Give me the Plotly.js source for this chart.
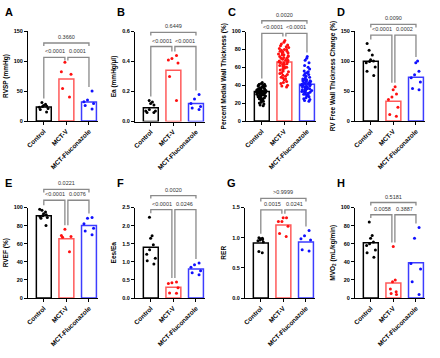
<!DOCTYPE html>
<html><head><meta charset="utf-8">
<script src="https://cdn.plot.ly/plotly-3.0.1.min.js"></script>
<style>html,body{margin:0;padding:0;background:#fff}#chart{width:440px;height:358px}</style>
</head><body><div id="chart"></div>
<script>
const categories = ['Control', 'MCT-V', 'MCT-Fluconazole'];

// A RVSP
const rvspControl = [31, 28, 26, 25, 24, 23, 21, 19, 15];
const rvspMctV = [98, 82, 78, 54, 40];
const rvspMctF = [50, 35, 32, 29, 26, 20];
const rvspMean = [23.5, 70, 31.5];
// B Ea
const eaControl = [0.14, 0.13, 0.12, 0.11, 0.08, 0.07, 0.06, 0.06, 0.07];
const eaMctV = [0.44, 0.42, 0.41, 0.39, 0.30, 0.14];
const eaMctF = [0.18, 0.15, 0.12, 0.10, 0.09, 0.08];
const eaMean = [0.091, 0.341, 0.12];
// C Percent medial wall thickness
const pmwtControl = [43, 42, 41, 41, 40, 40, 39, 39, 38, 38, 37, 37, 36, 36, 36, 35, 35, 35, 34, 34, 34, 33, 33, 33, 33, 32, 32, 32, 32, 31, 31, 31, 31, 30, 30, 30, 30, 29, 29, 29, 28, 28, 28, 27, 27, 26, 26, 25, 25, 24, 24, 23, 22, 21, 20, 19, 18, 17, 33, 34];
const pmwtMctV = [90, 88, 86, 85, 84, 83, 82, 81, 80, 80, 79, 78, 78, 77, 76, 76, 75, 74, 74, 73, 72, 72, 71, 70, 70, 69, 68, 68, 67, 66, 66, 65, 65, 64, 63, 63, 62, 61, 60, 60, 59, 58, 57, 56, 55, 54, 53, 52, 51, 50, 49, 48, 47, 46, 44, 43, 42, 40, 39, 38];
const pmwtMctF = [72, 70, 68, 65, 62, 60, 58, 56, 55, 54, 53, 52, 51, 50, 49, 48, 47, 46, 46, 45, 45, 44, 44, 43, 43, 42, 42, 41, 41, 40, 40, 39, 39, 38, 38, 37, 37, 36, 36, 35, 35, 34, 34, 33, 33, 32, 32, 31, 30, 30, 29, 28, 27, 26, 25, 24, 23, 22, 40, 38];
const pmwtMean = [33, 66, 41];
// D RV free wall thickness change
const rvfwControl = [129, 118, 110, 102, 100, 99, 97, 90, 83, 76];
const rvfwMctV = [57, 52, 45, 40, 36, 23, 11, 8];
const rvfwMctF = [100, 97, 83, 77, 72, 65, 54, 52];
const rvfwMean = [99.5, 33, 73];
// E RVEF
const rvefControl = [98, 97, 95, 93, 92, 91, 90, 89, 88, 80];
const rvefMctV = [76, 69, 68, 67, 51];
const rvefMctF = [89, 88, 82, 77, 74, 70];
const rvefMean = [91, 65.5, 80];
// F Ees/Ea
const eesControl = [2.23, 1.72, 1.65, 1.47, 1.33, 1.21, 1.10, 1.03, 0.94];
const eesMctV = [0.44, 0.42, 0.40, 0.28, 0.14, 0.13];
const eesMctF = [0.97, 0.92, 0.85, 0.75, 0.70, 0.64];
const eesMean = [1.40, 0.30, 0.80];
// G RER
const rerControl = [1.0, 0.99, 0.98, 0.97, 0.96, 0.95, 0.93, 0.77, 0.75];
const rerMctV = [1.33, 1.33, 1.27, 1.27, 1.19, 1.07, 1.02];
const rerMctF = [1.12, 1.03, 0.98, 0.96, 0.80, 0.78];
const rerMean = [0.91, 1.21, 0.93];
// H MVO2
const mvoControl = [84, 69, 66, 62, 60, 58, 53, 50, 45];
const mvoMctV = [57, 20, 18, 10, 7, 5, 4];
const mvoMctF = [78, 66, 38, 32, 18, 4];
const mvoMean = [61, 16.5, 39];

const panelLetters = ['A', 'B', 'C', 'D', 'E', 'F', 'G', 'H'];
const yTitles = ['RVSP (mmHg)', 'Ea (mmHg/µl)', 'Percent Medial Wall Thickness (%)', 'RV Free Wall Thickness Change (%)',
  'RVEF (%)', 'Ees/Ea', 'RER', 'MVO<sub>2</sub> (mL/kg/min)'];
const pLeft = ['<0.0001', '<0.0001', '<0.0001', '<0.0001', '<0.0001', '<0.0001', '0.0015', '0.0058'];
const pRight = ['0.0001', '<0.0001', '<0.0001', '0.0002', '0.0076', '0.0246', '0.0241', '0.3887'];
const pTop = ['0.3660', '0.6449', '0.0020', '0.0090', '0.0221', '0.0020', '>0.9999', '0.5181'];

const groups = [
  [rvspControl, rvspMctV, rvspMctF, rvspMean],
  [eaControl, eaMctV, eaMctF, eaMean],
  [pmwtControl, pmwtMctV, pmwtMctF, pmwtMean],
  [rvfwControl, rvfwMctV, rvfwMctF, rvfwMean],
  [rvefControl, rvefMctV, rvefMctF, rvefMean],
  [eesControl, eesMctV, eesMctF, eesMean],
  [rerControl, rerMctV, rerMctF, rerMean],
  [mvoControl, mvoMctV, mvoMctF, mvoMean]
];

// layout/style config (positions in pixels)
const W = 440, H = 358;
const cfg = [
  {x0: 28, top: 31, bot: 121, ymax: 150, dtick: 50, fmt: 'd', lower: 106, upper: 130},
  {x0: 135, top: 31.5, bot: 121.5, ymax: 0.6, dtick: 0.2, fmt: '.1f', lower: 0.5, upper: 0.594},
  {x0: 246, top: 31.5, bot: 121, ymax: 100, dtick: 20, fmt: 'd', lower: 98, upper: 112},
  {x0: 355, top: 31, bot: 121, ymax: 150, dtick: 50, fmt: 'd', lower: 143, upper: 161},
  {x0: 28, top: 207.5, bot: 298, ymax: 100, dtick: 20, fmt: 'd', lower: 108, upper: 120},
  {x0: 135, top: 207.5, bot: 298, ymax: 2.5, dtick: 0.5, fmt: '.1f', lower: 2.44, upper: 2.83},
  {x0: 245, top: 207.5, bot: 298, ymax: 1.5, dtick: 0.5, fmt: '.1f', lower: 1.46, upper: 1.65},
  {x0: 355, top: 207.5, bot: 298, ymax: 100, dtick: 20, fmt: 'd', lower: 92, upper: 105.5}
];
const XW = 70, XR = [-0.7, 2.4];
const barLine = ['#000000', '#ff5a5a', '#3c3cff'];
const ptColor = ['#000000', '#ff1010', '#1010ff'];
const FONT = 'Liberation Sans, Arial, sans-serif';

const traces = [], shapes = [], annotations = [];
const layout = {
  width: W, height: H, margin: {l: 0, r: 0, t: 0, b: 0},
  paper_bgcolor: '#fff', plot_bgcolor: '#fff', showlegend: false,
  font: {family: FONT, color: '#000'}, boxmode: 'overlay', bargap: 0
};

cfg.forEach((c, i) => {
  const n = i + 1, xs = n === 1 ? 'x' : 'x' + n, ys = n === 1 ? 'y' : 'y' + n;
  const g = groups[i];
  const s = XW / (XR[1] - XR[0]);
  const px = xi => c.x0 + (xi - XR[0]) * s;
  const py = v => c.bot - v / c.ymax * (c.bot - c.top);
  const P = (x, y) => (x / W).toFixed(5) + ',' + (1 - y / H).toFixed(5);

  layout['xaxis' + (n === 1 ? '' : n)] = {
    domain: [c.x0 / W, (c.x0 + XW) / W], anchor: ys, type: 'category',
    categoryorder: 'array', categoryarray: categories, range: XR,
    showline: true, linecolor: '#000', linewidth: 1, ticks: 'outside', ticklen: 3, tickwidth: 1, tickcolor: '#000',
    tickangle: -45, tickfont: {size: 6.5, weight: 'bold', family: FONT}, showgrid: false, zeroline: false, fixedrange: true
  };
  layout['yaxis' + (n === 1 ? '' : n)] = {
    domain: [1 - c.bot / H, 1 - c.top / H], anchor: xs, range: [0, c.ymax], dtick: c.dtick, tick0: 0, tickformat: c.fmt,
    showline: true, linecolor: '#000', linewidth: 1, ticks: 'outside', ticklen: 3, tickwidth: 1, tickcolor: '#000',
    tickfont: {size: 5.5, weight: 'bold', family: FONT}, showgrid: false, zeroline: false, fixedrange: true,
    title: {text: yTitles[i], font: {size: 6.5, weight: 'bold', family: FONT}, standoff: 4}
  };

  traces.push({
    type: 'bar', x: categories, y: g[3], xaxis: xs, yaxis: ys, width: 0.66,
    marker: {color: '#fff', line: {color: barLine, width: 1.5}}, hoverinfo: 'skip'
  });
  for (let k = 0; k < 3; k++) {
    traces.push({
      type: 'box', x0: categories[k], y: g[k], xaxis: xs, yaxis: ys, width: 0.62,
      boxpoints: 'all', jitter: 0.85, pointpos: 0, fillcolor: 'rgba(0,0,0,0)',
      line: {width: 0, color: 'rgba(0,0,0,0)'}, marker: {color: ptColor[k], size: 3}, hoverinfo: 'skip'
    });
  }

  // brackets
  const gmax = k => Math.max(...g[k]);
  const yl = py(c.lower), yu = py(c.upper);
  const dropTo = k => Math.max(yl + 3, py(gmax(k)) - 4);
  const br = {type: 'path', xref: 'paper', yref: 'paper', line: {color: '#8a8a8a', width: 1.3}};
  shapes.push(Object.assign({}, br, {path: 'M' + P(px(0), dropTo(0)) + 'L' + P(px(0), yl) + 'L' + P(px(1) - 1.5, yl) + 'L' + P(px(1) - 1.5, dropTo(1))}));
  shapes.push(Object.assign({}, br, {path: 'M' + P(px(1) + 1.5, dropTo(1)) + 'L' + P(px(1) + 1.5, yl) + 'L' + P(px(2), yl) + 'L' + P(px(2), dropTo(2))}));
  shapes.push(Object.assign({}, br, {path: 'M' + P(px(0), yu + 3) + 'L' + P(px(0), yu) + 'L' + P(px(2), yu) + 'L' + P(px(2), yu + 3)}));
  const lab = (x, y, t) => annotations.push({xref: 'paper', yref: 'paper', x: x / W, y: 1 - (y - 1) / H, text: t,
    showarrow: false, xanchor: 'center', yanchor: 'bottom', font: {size: 5.5, color: '#333', family: FONT}});
  lab((px(0) + px(1)) / 2, yl, pLeft[i]);
  lab((px(1) + px(2)) / 2, yl, pRight[i]);
  lab((px(0) + px(2)) / 2, yu, pTop[i]);

  annotations.push({xref: 'paper', yref: 'paper', x: (i % 4 === 0 ? 3 : c.x0 - 20) / W, y: 1 - (i < 4 ? 4 : 175) / H,
    text: panelLetters[i], showarrow: false, xanchor: 'left', yanchor: 'top', font: {size: 11, weight: 'bold', family: FONT}});
});
layout.shapes = shapes;
layout.annotations = annotations;
Plotly.newPlot('chart', traces, layout, {staticPlot: true});
</script></body></html>
